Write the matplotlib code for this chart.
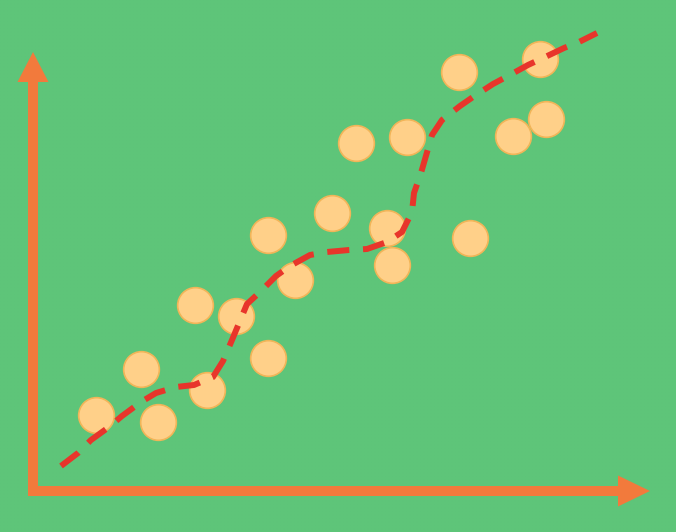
import numpy as np
import matplotlib
matplotlib.use('Agg')
import matplotlib.pyplot as plt
import matplotlib.patches as patches

# scatter points (origin at the corner of the drawn axes)
pts_x = [63, 108, 125, 162, 174, 203, 235, 235, 262, 299,
         323, 354, 359, 374, 426, 437, 480, 507, 513]
pts_y = [75, 121, 68, 185, 100, 174, 132, 255, 210, 277,
         347, 262, 225, 353, 418, 252, 354, 431, 371]

# dashed trend curve
curve_x = [28, 45, 58, 76, 89, 108, 123, 143, 161, 180, 190, 199, 214, 227,
           243, 257, 277, 294, 316, 334, 354, 369, 379, 381, 388, 399, 409,
           427, 440, 460, 475, 495, 510, 531, 546, 564]
curve_y = [24, 37, 50, 63, 74, 88, 97, 103, 105, 113, 129, 150, 186, 198,
           214, 224, 235, 238, 240, 241, 248, 258, 278, 297, 317, 355, 370,
           384, 393, 406, 414, 425, 432, 442, 448, 457]

bg = '#5fc67a'
axis_col = '#f27a3c'
dot_face = '#ffd089'
dot_edge = '#f2b558'
line_col = '#e8352b'

fig = plt.figure(figsize=(6.76, 5.32), dpi=100)
fig.patch.set_facecolor(bg)
ax = fig.add_axes([0, 0, 1, 1])
ax.set_xlim(-33, 643)
ax.set_ylim(-42, 490)
ax.axis('off')

# faint fabric texture
yy, xx = np.mgrid[0:532, 0:676]
weave = 0.5 * (np.cos(xx * 2 * np.pi / 3.5) + np.cos(yy * 2 * np.pi / 3.5))
tex = np.zeros((532, 676, 4))
tex[..., :3] = np.array([0.33, 0.72, 0.44])
tex[..., 3] = 0.10 * (weave + 1) / 2
ax.imshow(tex, extent=(-33, 643, -42, 490), zorder=0, interpolation='nearest')

# axes arrows
ax.add_patch(patches.FancyArrow(0, -6, 0, 444, width=10, head_width=31,
                                head_length=30, length_includes_head=True,
                                color=axis_col, lw=0, zorder=2))
ax.add_patch(patches.FancyArrow(-5, -1, 622, 0, width=10, head_width=31,
                                head_length=32, length_includes_head=True,
                                color=axis_col, lw=0, zorder=2))

ax.scatter(pts_x, pts_y, s=660, c=dot_face, edgecolors=dot_edge,
           linewidths=1.2, zorder=3)

ax.plot(curve_x, curve_y, color=line_col, lw=4.3, ls=(0, (3.7, 2.3)),
        dash_capstyle='butt', zorder=4)

plt.savefig('out.png', dpi=100, facecolor=bg)
